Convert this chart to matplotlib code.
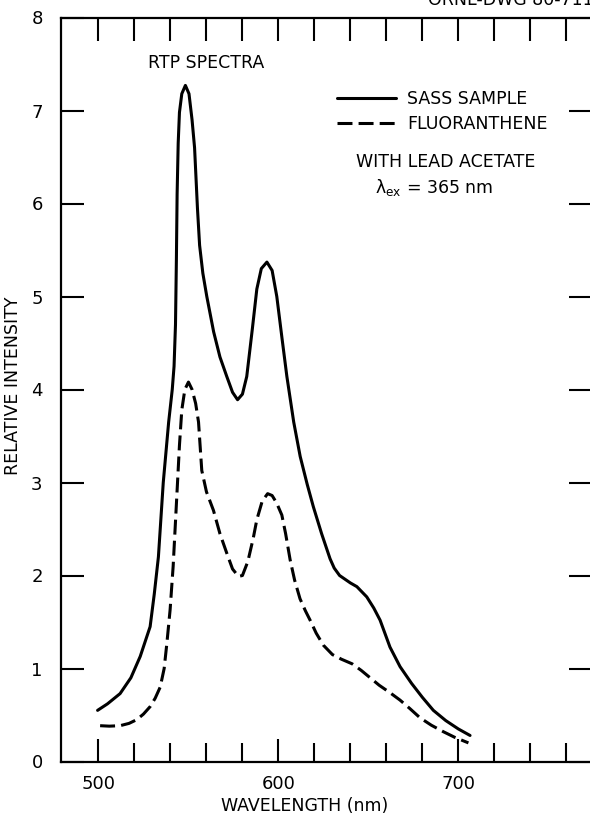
import numpy as np
import matplotlib
matplotlib.use('Agg')
import matplotlib.pyplot as plt
from matplotlib.ticker import FixedLocator

# values (wavelength in nm, relative intensity)
sass_wl = [499.5, 505, 512, 518, 523.2, 528.7, 531, 533.3, 536, 539, 541, 542,
           542.8, 543.3, 543.7, 544.3, 545, 546.3, 548.3, 550.3, 552, 553.4, 555, 556.2,
           558, 560.2, 564, 567.5, 571.3, 574.5, 577.3, 580, 582.4, 585.5, 588,
           590.5, 593.6, 596.5, 599.1, 602, 604.7, 608.5, 612.1, 616, 619.4, 624,
           628.7, 631, 634, 637, 640, 643.6, 649.1, 653, 656.5, 662, 667.6, 674, 680,
           686.1, 693, 700, 706.5]
sass_int = [0.55, 0.62, 0.73, 0.90, 1.13, 1.45, 1.80, 2.20, 3.00, 3.65, 4.00, 4.25,
            4.70, 5.40, 6.10, 6.65, 6.98, 7.18, 7.27, 7.18, 6.90, 6.60, 5.95, 5.55,
            5.25, 5.00, 4.62, 4.35, 4.14, 3.97, 3.89, 3.95, 4.14, 4.65, 5.08,
            5.30, 5.37, 5.28, 5.00, 4.55, 4.14, 3.65, 3.28, 2.98, 2.74, 2.45,
            2.18, 2.08, 2.00, 1.96, 1.92, 1.88, 1.77, 1.65, 1.52, 1.23, 1.02, 0.84, 0.69,
            0.55, 0.44, 0.35, 0.28]

fluor_wl = [500.9, 506, 512, 517, 521.3, 525, 528.7, 531.5, 534.3, 536.5, 538,
            539.8, 541.5, 543.6, 545, 546.3, 548, 550, 552, 554, 555.6, 557.4, 560,
            563.9, 567.5, 571.3, 574.5, 577.8, 580, 583, 586, 588, 591, 594, 596.5,
            599, 601.9, 604, 606.5, 609, 612, 615, 617.6, 621, 625, 630, 635, 641,
            646, 651, 656, 662, 667.6, 673, 678.7, 685, 691.7, 698, 705.6]
fluor_int = [0.385, 0.38, 0.385, 0.41, 0.45, 0.51, 0.59, 0.68, 0.80, 1.00, 1.27,
             1.63, 2.10, 2.88, 3.40, 3.78, 4.00, 4.08, 4.00, 3.85, 3.65, 3.13, 2.90,
             2.70, 2.45, 2.24, 2.07, 1.99, 2.00, 2.15, 2.40, 2.60, 2.80, 2.88, 2.86,
             2.78, 2.65, 2.45, 2.17, 1.95, 1.75, 1.62, 1.52, 1.38, 1.25, 1.15, 1.10, 1.05,
             0.98, 0.90, 0.82, 0.74, 0.66, 0.57, 0.47, 0.39, 0.32, 0.26, 0.20]

x_labels = [500, 600, 700]
x_minor = list(range(500, 780, 20))
y_ticks = list(range(0, 9))

W, H = 590, 816
plt.rcParams['font.family'] = ['DejaVu Sans']
plt.rcParams['mathtext.default'] = 'regular'

fig = plt.figure(figsize=(W / 100.0, H / 100.0), dpi=100)
# axes runs a little past the right edge, like the cropped scan
left, right, bottom, top = 60.7, 591.5, 761.5, 17.5
ax = fig.add_axes([left / W, 1 - bottom / H, (right - left) / W, (bottom - top) / H])

ax.plot(sass_wl, sass_int, color='black', lw=2.2, solid_capstyle='round',
        solid_joinstyle='round', label='SASS SAMPLE')
ax.plot(fluor_wl, fluor_int, color='black', lw=2.2, linestyle=(0, (4.9, 2.0)),
        dash_joinstyle='round', label='FLUORANTHENE')

ax.set_xlim(479, 774)
ax.set_ylim(0, 8)

ax.xaxis.set_major_locator(FixedLocator(x_labels))
ax.xaxis.set_minor_locator(FixedLocator(x_minor))
ax.yaxis.set_major_locator(FixedLocator(y_ticks))
ax.tick_params(which='both', direction='in', top=True, right=True, width=1.5,
               labelsize=13, colors='black')
ax.tick_params(which='major', length=16.5)
ax.tick_params(which='minor', length=14)
ax.tick_params(axis='x', which='major', pad=10)
ax.tick_params(axis='y', which='major', pad=13)
# top ticks are all drawn the same long length
for t in ax.xaxis.get_minor_ticks():
    t.tick2line.set_markersize(16.5)

for sp in ax.spines.values():
    sp.set_linewidth(1.6)

ax.set_xlabel('WAVELENGTH (nm)', fontsize=12.5, labelpad=4)
ax.xaxis.set_label_coords((305 - left) / (right - left), -(797 - bottom) / (bottom - top))
ax.set_ylabel('RELATIVE INTENSITY', fontsize=12.5)
ax.yaxis.set_label_coords(-(left - 21.7) / (right - left), (bottom - 386) / (bottom - top))

fig.text(206 / W, 1 - 63 / H, 'RTP SPECTRA', fontsize=12.5, ha='center', va='center')
fig.text(446 / W, 1 - 162 / H, 'WITH LEAD ACETATE', fontsize=12.5, ha='center', va='center')
fig.text(375 / W, 1 - 187 / H, r'$\lambda_{ex}$ = 365 nm', fontsize=12.5, ha='left', va='center')
fig.text(428 / W, 1 - 5 / H, 'ORNL-DWG 80-7117', fontsize=12.5, ha='left', va='baseline')

leg = ax.legend(loc='upper left', bbox_to_anchor=(336.7 / W, 1 - 90 / H),
                bbox_transform=fig.transFigure, frameon=False, fontsize=12.5,
                handlelength=3.4, handletextpad=0.65, labelspacing=0.4,
                borderpad=0, borderaxespad=0)

fig.savefig('out.png', dpi=100)
